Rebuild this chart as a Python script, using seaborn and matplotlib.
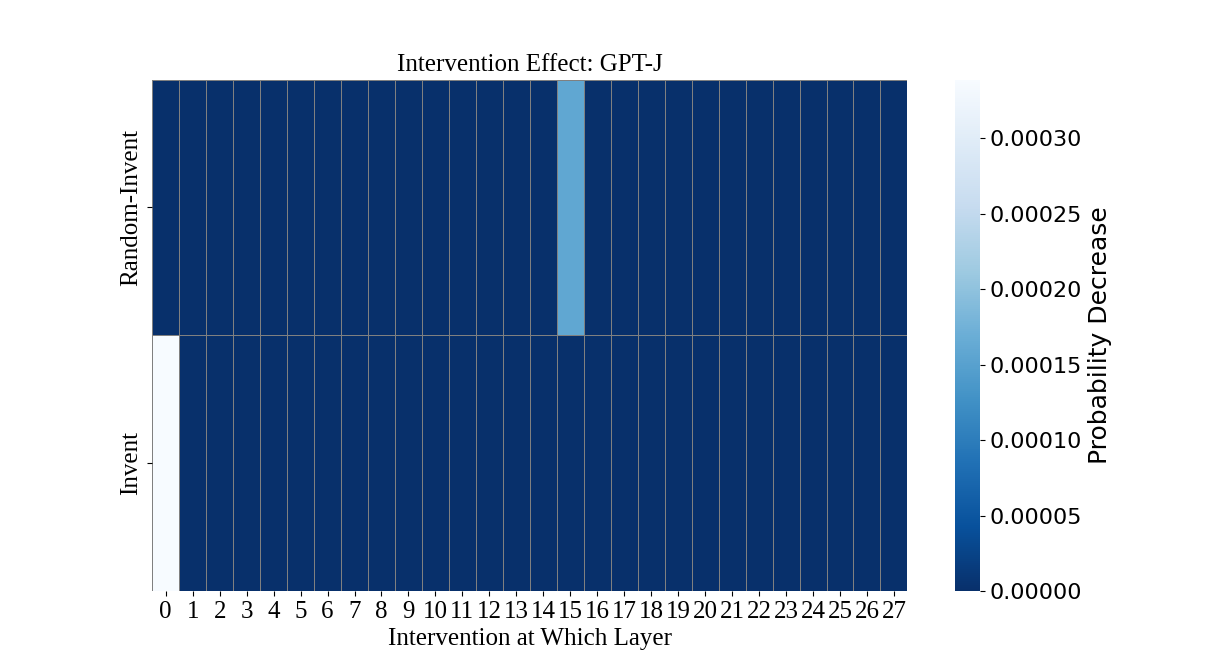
import numpy as np
import pandas as pd
import matplotlib
matplotlib.use("Agg")
import matplotlib.pyplot as plt
import seaborn as sns

# Данные: снижение вероятности по слоям
layers = list(range(28))
rows = ["Random-Invent", "Invent"]
random_invent = [0.0] * 15 + [0.000158] + [0.0] * 12
invent = [0.000339] + [0.0] * 27

data = pd.DataFrame([random_invent, invent], index=rows, columns=layers)

fig = plt.figure(figsize=(12.18, 6.64), dpi=100)
ax = sns.heatmap(data, cmap="Blues_r", linewidths=0.5, linecolor="gray",
                 cbar_kws={"label": "Probability Decrease"})

serif = ["Liberation Serif", "DejaVu Serif"]
ax.set_title("Intervention Effect: GPT-J", fontsize=18, family=serif)
ax.set_xlabel("Intervention at Which Layer", fontsize=18, family=serif)
for lbl in ax.get_xticklabels():
    lbl.set_fontsize(18)
    lbl.set_family(serif)
for lbl in ax.get_yticklabels():
    lbl.set_fontsize(18)
    lbl.set_family(serif)

cbar = ax.collections[0].colorbar
cbar.ax.tick_params(labelsize=16)
cbar.ax.yaxis.label.set_fontsize(18)
cbar.ax.yaxis.set_major_formatter(matplotlib.ticker.FormatStrFormatter("%.5f"))

plt.savefig("out.png", dpi=100)
